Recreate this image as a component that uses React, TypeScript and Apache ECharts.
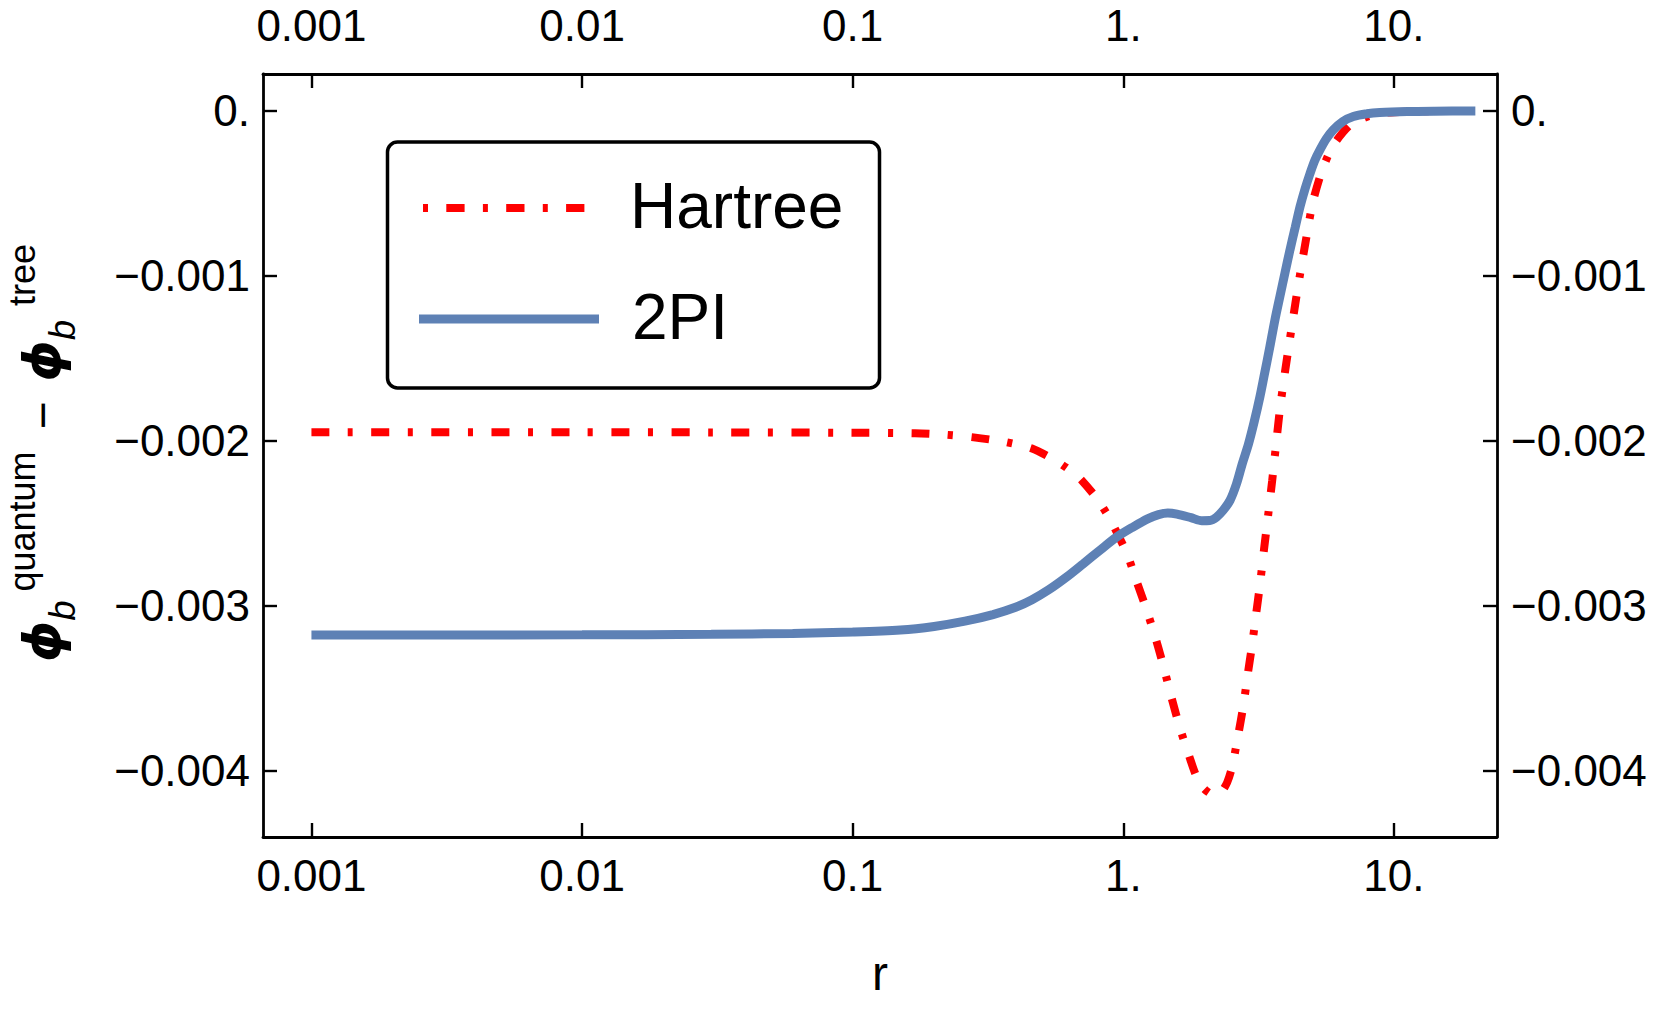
import React, { useEffect, useRef } from "react";
import * as echarts from "echarts";

// ---- data ----
const SERIES_NAMES = ["Hartree", "2PI"];

const HARTREE_R = [
  0.001, 0.01, 0.03, 0.1, 0.17, 0.22, 0.28, 0.36, 0.46, 0.57, 0.65, 0.7, 0.8, 0.89,
  1.03, 1.12, 1.22, 1.33, 1.41, 1.51, 1.62, 1.76, 1.86, 1.97, 2.09, 2.21, 2.31, 2.42,
  2.52, 2.66, 2.78, 2.88, 2.99, 3.09, 3.2, 3.31, 3.43, 3.55, 3.67, 3.79, 3.96, 4.13,
  4.32, 4.5, 4.78, 5.02, 5.43, 5.96, 6.89, 7.94, 9.42, 12.6, 20,
];
const HARTREE_V = [
  -0.001947, -0.001947, -0.001948, -0.00195, -0.001953, -0.001962, -0.001978, -0.002004,
  -0.002046, -0.002125, -0.00219, -0.002236, -0.00235, -0.00247, -0.00268, -0.00285,
  -0.003024, -0.00322, -0.00337, -0.00356, -0.00374, -0.00392, -0.00403, -0.0041,
  -0.004135, -0.00414, -0.004125, -0.00407, -0.00398, -0.00378, -0.0036, -0.00342,
  -0.00324, -0.00306, -0.00287, -0.00266, -0.00245, -0.00224, -0.00202, -0.00181,
  -0.00158, -0.00138, -0.00117, -0.00099, -0.00074, -0.00055, -0.00036, -0.00021,
  -0.000085, -0.000036, -0.00001, -0.000002, 0,
];

const TWO_PI_R = [
  0.001, 0.003, 0.01, 0.03, 0.06, 0.1, 0.15, 0.2, 0.26, 0.33, 0.4, 0.46, 0.53, 0.62,
  0.71, 0.82, 0.94, 1.09, 1.23, 1.35, 1.46, 1.58, 1.78, 1.95, 2.09, 2.21, 2.34, 2.48,
  2.62, 2.75, 2.9, 3.05, 3.2, 3.31, 3.48, 3.63, 3.79, 3.96, 4.13, 4.32, 4.5, 4.7, 4.9,
  5.1, 5.33, 5.62, 5.97, 6.46, 7.08, 7.94, 8.87, 11.2, 14.1, 20,
];
const TWO_PI_V = [
  -0.003176, -0.003176, -0.003175, -0.003172, -0.003166, -0.003158, -0.003146, -0.003124,
  -0.003092, -0.003052, -0.003008, -0.002962, -0.002902, -0.002822, -0.002745, -0.002662,
  -0.002585, -0.00252, -0.002472, -0.002446, -0.002436, -0.002443, -0.002465, -0.002483,
  -0.002482, -0.002462, -0.00242, -0.00236, -0.00226, -0.00214, -0.00202, -0.00188,
  -0.00173, -0.00161, -0.00143, -0.00127, -0.001125, -0.00098, -0.000842, -0.000705,
  -0.00058, -0.00047, -0.000378, -0.0003, -0.000236, -0.00017, -0.000115, -0.000065,
  -0.000034, -0.000017, -0.000009, -0.000003, -0.000001, 0,
];

const X_TICKS = [0.001, 0.01, 0.1, 1, 10];
const X_TICK_LABELS = ["0.001", "0.01", "0.1", "1.", "10."];
const Y_TICKS = [0, -0.001, -0.002, -0.003, -0.004];
const Y_TICK_LABELS = ["0.", "\u22120.001", "\u22120.002", "\u22120.003", "\u22120.004"];

// ---- styling / layout ----
const FONT = '"Liberation Sans", Arial, sans-serif';
const RED = "#ff0000";
const BLUE = "#5e81b5";
const X_MIN_LOG = -3.179;
const X_MAX_LOG = 1.381;
const Y_MIN = -0.0044;
const Y_MAX = 0.000224;

function xLabel(v: number): string {
  for (let i = 0; i < X_TICKS.length; i++) {
    if (Math.abs(Math.log10(X_TICKS[i]) - v) < 1e-6) return X_TICK_LABELS[i];
  }
  return "";
}
function yLabel(v: number): string {
  for (let i = 0; i < Y_TICKS.length; i++) {
    if (Math.abs(Y_TICKS[i] - v) < 1e-9) return Y_TICK_LABELS[i];
  }
  return "";
}

export default function App() {
  const ref = useRef<HTMLDivElement>(null);

  useEffect(() => {
    if (!ref.current) return;
    const chart = echarts.init(ref.current, undefined, { renderer: "svg" });

    const xTickVals = X_TICKS.map((t) => Math.log10(t));
    const axisLine = { show: true, onZero: false, lineStyle: { color: "#000", width: 2.8 } };
    const axisTick = {
      show: true,
      inside: true,
      length: 14,
      lineStyle: { color: "#000", width: 2.4 },
    };
    const labelBase = { fontFamily: FONT, fontSize: 44, color: "#000" };

    const xAxisBase = {
      type: "value",
      min: X_MIN_LOG,
      max: X_MAX_LOG,
      axisLine,
      axisTick: { ...axisTick, customValues: xTickVals },
      splitLine: { show: false },
    };
    const yAxisBase = {
      type: "value",
      min: Y_MIN,
      max: Y_MAX,
      axisLine,
      axisTick: { ...axisTick, customValues: Y_TICKS },
      splitLine: { show: false },
    };

    chart.setOption({
      animation: false,
      backgroundColor: "#fff",
      grid: { left: 263, top: 74, width: 1234, height: 763, containLabel: false },
      xAxis: [
        {
          ...xAxisBase,
          position: "bottom",
          axisLabel: { ...labelBase, customValues: xTickVals, formatter: xLabel, margin: 16 },
          name: "r",
          nameLocation: "middle",
          nameGap: 112,
          nameTextStyle: { fontFamily: FONT, fontSize: 48, color: "#000" },
        },
        {
          ...xAxisBase,
          position: "top",
          axisLabel: { ...labelBase, customValues: xTickVals, formatter: xLabel, margin: 27 },
        },
      ],
      yAxis: [
        {
          ...yAxisBase,
          position: "left",
          axisLabel: { ...labelBase, customValues: Y_TICKS, formatter: yLabel, margin: 13 },
        },
        {
          ...yAxisBase,
          position: "right",
          axisLabel: { ...labelBase, customValues: Y_TICKS, formatter: yLabel, margin: 14 },
        },
      ],
      series: [
        {
          type: "line",
          name: SERIES_NAMES[0],
          xAxisIndex: 0,
          yAxisIndex: 0,
          data: HARTREE_R.map((r, i) => [Math.log10(r), HARTREE_V[i]]),
          symbol: "none",
          showSymbol: false,
          smooth: 0.25,
          z: 2,
          lineStyle: { color: RED, width: 8, type: [18, 18.5, 5, 18.5], cap: "butt" },
        },
        {
          type: "line",
          name: SERIES_NAMES[1],
          xAxisIndex: 0,
          yAxisIndex: 0,
          data: TWO_PI_R.map((r, i) => [Math.log10(r), TWO_PI_V[i]]),
          symbol: "none",
          showSymbol: false,
          smooth: 0.3,
          z: 3,
          lineStyle: { color: BLUE, width: 9, cap: "butt" },
        },
      ],
      graphic: [
        {
          type: "group",
          z: 10,
          children: [
            {
              type: "rect",
              shape: { x: 387.5, y: 142, width: 492, height: 246, r: 10 },
              style: { fill: "#fff", stroke: "#000", lineWidth: 3.5 },
            },
            {
              type: "line",
              shape: { x1: 423, y1: 208, x2: 586, y2: 208 },
              style: { stroke: RED, lineWidth: 8, lineDash: [5, 18.3, 18.3, 18.3] },
            },
            {
              type: "line",
              shape: { x1: 419, y1: 319, x2: 599, y2: 319 },
              style: { stroke: BLUE, lineWidth: 9 },
            },
            {
              type: "text",
              x: 630,
              y: 205.5,
              style: {
                text: SERIES_NAMES[0],
                fontFamily: FONT,
                fontSize: 64,
                fill: "#000",
                align: "left",
                verticalAlign: "middle",
              },
            },
            {
              type: "text",
              x: 632,
              y: 316.5,
              style: {
                text: SERIES_NAMES[1],
                fontFamily: FONT,
                fontSize: 64,
                fill: "#000",
                align: "left",
                verticalAlign: "middle",
              },
            },
          ],
        },
        {
          type: "text",
          x: 42,
          y: 453,
          rotation: Math.PI / 2,
          style: {
            text: "{phi|\u03d5}{sub|b}{sup1|quantum}{op|\u2212}{phi|\u03d5}{sub|b}{sup2|tree}",
            align: "center",
            verticalAlign: "middle",
            fill: "#000",
            rich: {
              phi: {
                fontFamily: '"DejaVu Sans", sans-serif',
                fontWeight: "bold",
                fontStyle: "italic",
                fontSize: 52,
                lineHeight: 76,
                fill: "#000",
              },
              sub: {
                fontFamily: FONT,
                fontStyle: "italic",
                fontSize: 36,
                lineHeight: 52,
                verticalAlign: "bottom",
                fill: "#000",
              },
              sup1: {
                fontFamily: FONT,
                fontSize: 36,
                lineHeight: 34,
                verticalAlign: "top",
                padding: [0, 0, 0, 9],
                fill: "#000",
              },
              sup2: {
                fontFamily: FONT,
                fontSize: 36,
                lineHeight: 34,
                verticalAlign: "top",
                padding: [0, 0, 0, 14],
                fill: "#000",
              },
              op: {
                fontFamily: FONT,
                fontSize: 48,
                lineHeight: 76,
                padding: [0, 20, 0, 22],
                fill: "#000",
              },
            },
          },
        },
      ],
    });

    return () => chart.dispose();
  }, []);

  return (
    <div
      ref={ref}
      style={{ position: "absolute", left: 0, top: 0, width: 1661, height: 1010, background: "#fff" }}
    />
  );
}
